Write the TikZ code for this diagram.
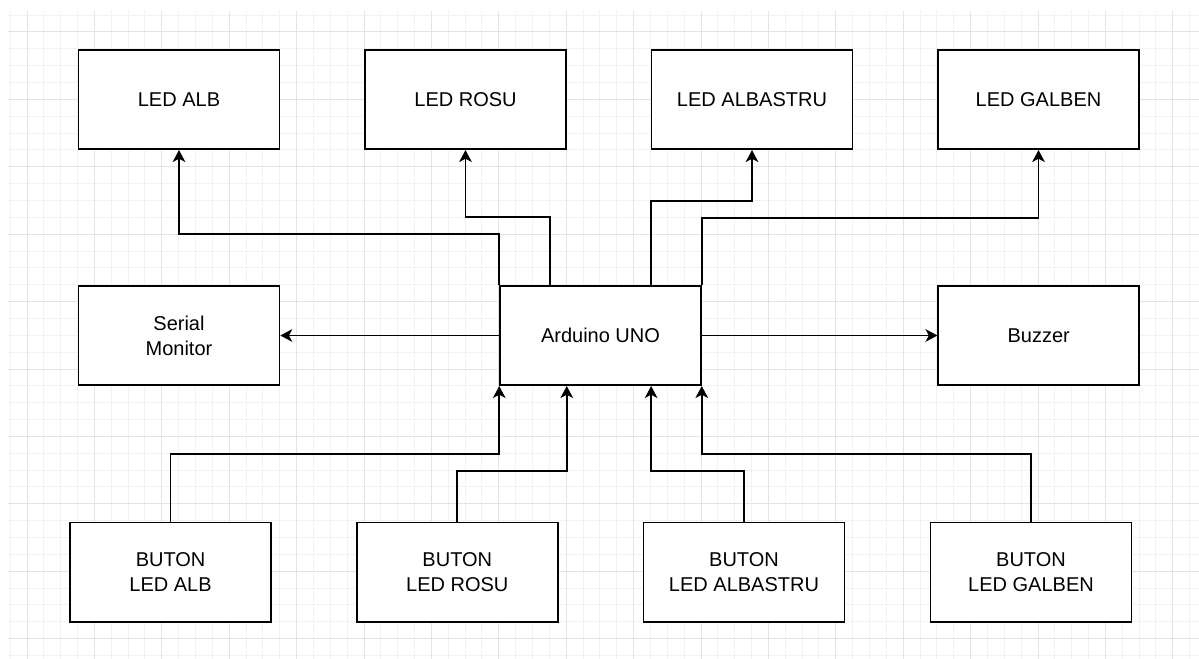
\documentclass[tikz,border=0pt]{standalone}
\usepackage{fontspec}
\setmainfont{Liberation Sans}
\usetikzlibrary{arrows.meta,calc}
\definecolor{gridminor}{HTML}{F2F2F2}
\definecolor{gridmajor}{HTML}{E3E3E3}
\begin{document}
\begin{tikzpicture}[x=0.75pt,y=-0.75pt,
  box/.style={draw=black, line width=1.3pt, fill=white, minimum width=150.6pt, minimum height=74.5pt, inner sep=0pt, align=center, font=\fontsize{15}{18.75}\selectfont},
  arr/.style={line width=1.3pt, -{Stealth[length=9pt,width=9.5pt,inset=2.5pt]}},
  minorline/.style={draw=gridminor, line width=0.75pt},
  majorline/.style={draw=gridmajor, line width=0.75pt}]
\fill[white] (0,0) rectangle (1199,659);
\useasboundingbox (0,0) rectangle (1199,659);
\foreach \i in {-1,...,70} {\draw[minorline] ({27+16.85*\i},11) -- ({27+16.85*\i},659);}
\foreach \j in {-1,...,37} {\draw[minorline] (8,{32+16.85*\j}) -- (1199,{32+16.85*\j});}
\foreach \i in {0,...,17} {\draw[majorline] ({27+67.4*\i},11) -- ({27+67.4*\i},659);}
\foreach \j in {0,...,9} {\draw[majorline] (8,{32+67.4*\j}) -- (1199,{32+67.4*\j});}

\node[box] (ledalb) at (179,99.5) {LED ALB};
\node[box] (ledrosu) at (465.5,99.5) {LED ROSU};
\node[box] (ledalbastru) at (752,99.5) {LED ALBASTRU};
\node[box] (ledgalben) at (1038.5,99.5) {LED GALBEN};
\node[box] (serial) at (179,335.5) {Serial\\Monitor};
\node[box] (ard) at (600.5,335.5) {Arduino UNO};
\node[box] (buzzer) at (1038.75,335.5) {Buzzer};
\node[box] (balb) at (170.6,572.2) {BUTON\\LED ALB};
\node[box] (brosu) at (457.3,572.2) {BUTON\\LED ROSU};
\node[box] (balbastru) at (744,572.2) {BUTON\\LED ALBASTRU};
\node[box] (bgalben) at (1031,572.2) {BUTON\\LED GALBEN};

\coordinate (t1) at ($(ard.north west)!0.25!(ard.north east)$);
\coordinate (t3) at ($(ard.north west)!0.75!(ard.north east)$);
\coordinate (s1) at ($(ard.south west)!0.3333!(ard.south east)$);
\coordinate (s3) at ($(ard.south west)!0.75!(ard.south east)$);

\draw[arr] (ard.north west) -- (ard.north west |- 0,234) -| (ledalb.south);
\draw[arr] (t1) -- (t1 |- 0,217) -| (ledrosu.south);
\draw[arr] (t3) -- (t3 |- 0,201) -| (ledalbastru.south);
\draw[arr] (ard.north east) -- (ard.north east |- 0,218) -| (ledgalben.south);
\draw[arr] (ard.west) -- (serial.east);
\draw[arr] (ard.east) -- (buzzer.west);
\draw[arr] (balb.north) -- (balb.north |- 0,454) -| (ard.south west);
\draw[arr] (brosu.north) -- (brosu.north |- 0,470.7) -| (s1);
\draw[arr] (balbastru.north) -- (balbastru.north |- 0,471) -| (s3);
\draw[arr] (bgalben.north) -- (bgalben.north |- 0,454) -| (ard.south east);
\end{tikzpicture}
\end{document}
